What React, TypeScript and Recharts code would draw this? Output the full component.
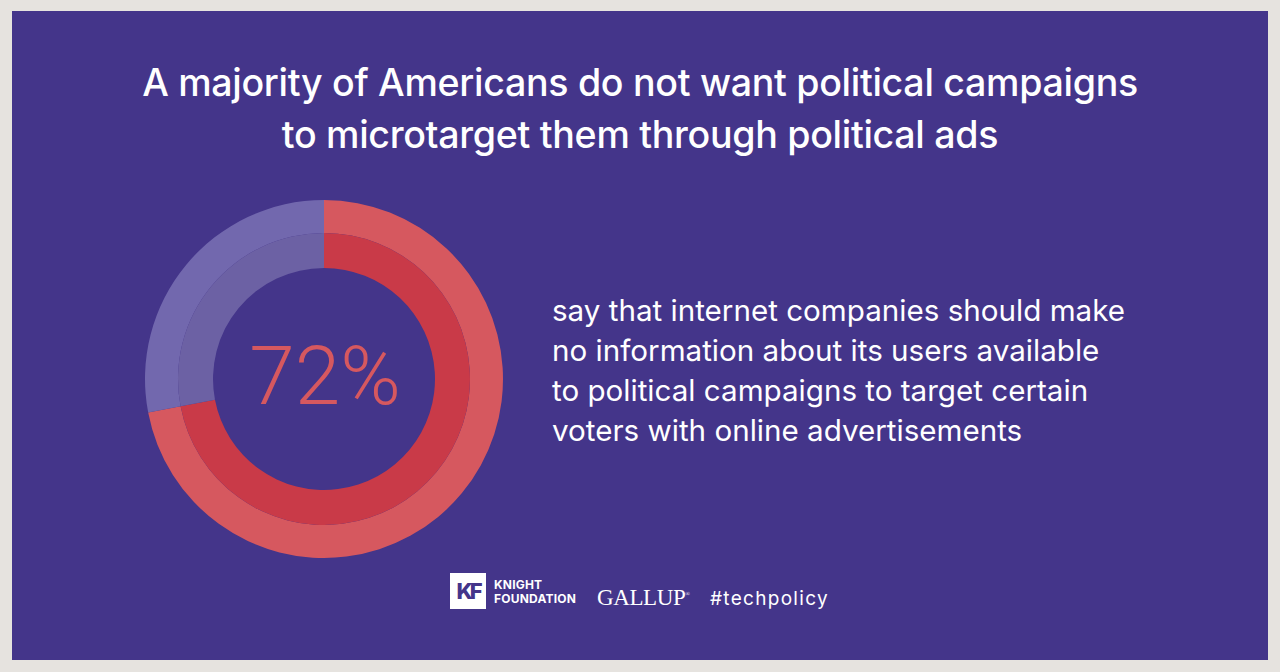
import React from 'react';
import { PieChart, Pie, Cell } from 'recharts';

const categories = ['Make no information available', 'Other'];
const values = [72, 28];
const headline = '72%';
const titleLines = ['A majority of Americans do not want political campaigns', 'to microtarget them through political ads'];
const bodyLines = [
  'say that internet companies should make',
  'no information about its users available',
  'to political campaigns to target certain',
  'voters with online advertisements',
];

const outerColors = ['#d6585f', '#7268ae'];
const innerColors = ['#c93a48', '#6c61a4'];

const data = categories.map((name, i) => ({ name, value: values[i] }));

export default function App() {
  return (
    <div style={{ position: 'absolute', left: 0, top: 0, width: 1280, height: 672, background: '#e6e3df', overflow: 'hidden' }}>
      <div style={{ position: 'absolute', left: 12, top: 11, width: 1256, height: 649, background: '#44358a' }} />
      <div style={{ position: 'absolute', left: 0, top: 0 }}>
        <PieChart width={1280} height={672} margin={{ top: 0, right: 0, bottom: 0, left: 0 }}>
          <Pie data={data} dataKey="value" cx={324} cy={379} innerRadius={146} outerRadius={179}
            startAngle={90} endAngle={-270} stroke="none" isAnimationActive={false}>
            {data.map((d, i) => <Cell key={d.name} fill={outerColors[i]} />)}
          </Pie>
          <Pie data={data} dataKey="value" cx={324} cy={379} innerRadius={111} outerRadius={146}
            startAngle={90} endAngle={-270} stroke="none" isAnimationActive={false}>
            {data.map((d, i) => <Cell key={d.name} fill={innerColors[i]} />)}
          </Pie>
        </PieChart>
      </div>
      <div style={{ position: 'absolute', left: 0, top: 57, width: 1280, textAlign: 'center', color: '#ffffff', fontFamily: 'Inter, sans-serif', fontSize: 37.6, fontWeight: 500, lineHeight: '52px', letterSpacing: -0.3 }}>
        {titleLines.map((l) => <div key={l}>{l}</div>)}
      </div>
      <div style={{ position: 'absolute', left: 225, top: 328, width: 200, textAlign: 'center', color: '#d6585f', fontFamily: 'Roboto, sans-serif', fontSize: 82, fontWeight: 300, lineHeight: '96px' }}>
        {headline}
      </div>
      <div style={{ position: 'absolute', left: 552, top: 290, color: '#ffffff', fontFamily: 'Inter, sans-serif', fontSize: 29.6, fontWeight: 400, lineHeight: '40px' }}>
        {bodyLines.map((l) => <div key={l}>{l}</div>)}
      </div>
      <div style={{ position: 'absolute', left: 450, top: 573, width: 36, height: 36, background: '#ffffff', color: '#44358a', fontFamily: 'Inter, sans-serif', fontWeight: 800, fontSize: 22, lineHeight: '36px', textAlign: 'center', letterSpacing: -3 }}>KF</div>
      <div style={{ position: 'absolute', left: 494, top: 578, color: '#ffffff', fontFamily: 'Inter, sans-serif', fontWeight: 700, fontSize: 12, lineHeight: '14px', letterSpacing: 0.2 }}>
        <div>KNIGHT</div>
        <div>FOUNDATION</div>
      </div>
      <div style={{ position: 'absolute', left: 597, top: 580, color: '#ffffff', fontFamily: '"Liberation Serif", serif', fontSize: 23, lineHeight: '28px', letterSpacing: -0.4 }}>
        GALLUP<sup style={{ fontSize: 6 }}>®</sup>
      </div>
      <div style={{ position: 'absolute', left: 710, top: 584, color: '#ffffff', fontFamily: 'Inter, sans-serif', fontSize: 19, lineHeight: '30px', letterSpacing: 1.3 }}>
        #techpolicy
      </div>
    </div>
  );
}
